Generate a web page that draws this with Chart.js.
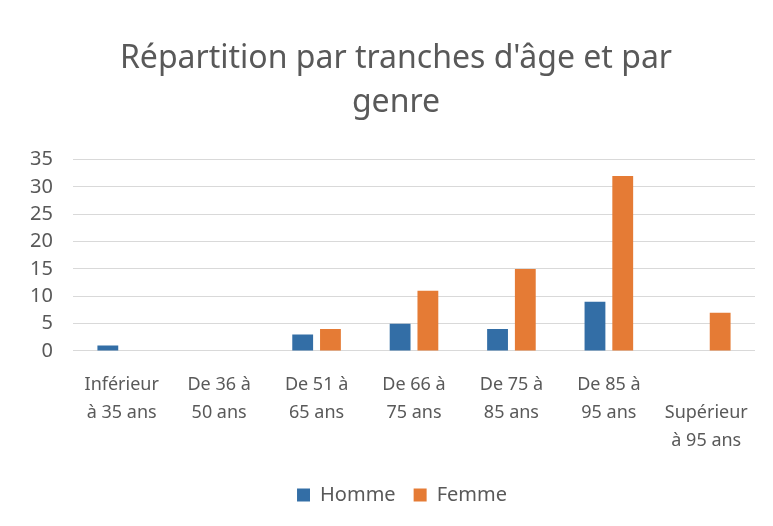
<!DOCTYPE html>
<html>
<head>
<meta charset="utf-8">
<script src="https://cdn.jsdelivr.net/npm/chart.js@4/dist/chart.umd.min.js"></script>
<style>
  html, body { margin: 0; padding: 0; background: #fff; }
  #wrap { width: 773px; height: 526px; }
</style>
</head>
<body>
<div id="wrap"><canvas id="chart" width="773" height="526"></canvas></div>
<script>
const categories = [
  ["Inférieur", "à 35 ans"],
  ["De 36 à", "50 ans"],
  ["De 51 à", "65 ans"],
  ["De 66 à", "75 ans"],
  ["De 75 à", "85 ans"],
  ["De 85 à", "95 ans"],
  ["", "Supérieur", "à 95 ans"],
];
const homme = [1, 0, 3, 5, 4, 9, 0];
const femme = [0, 0, 4, 11, 15, 32, 7];
const titleLines = ["Répartition par tranches d'âge et par", "genre"];

const textColor = "#595959";
const font = "'Noto Sans', 'Open Sans', sans-serif";

// title and legend sit a bit right of the canvas centre in the original
const shiftBlocks = {
  id: "shiftBlocks",
  afterLayout(chart) {
    if (chart.titleBlock) {
      chart.titleBlock.left += 15;
      chart.titleBlock.right += 15;
    }
    if (chart.legend) {
      chart.legend.left += 21;
      chart.legend.right += 21;
    }
  },
};

new Chart(document.getElementById("chart"), {
  type: "bar",
  data: {
    labels: categories,
    datasets: [
      { label: "Homme", data: homme, backgroundColor: "#336ea6", barPercentage: 0.75, categoryPercentage: 0.57 },
      { label: "Femme", data: femme, backgroundColor: "#e57b35", barPercentage: 0.75, categoryPercentage: 0.57 },
    ],
  },
  options: {
    responsive: false,
    animation: false,
    layout: { padding: { left: 7, right: 18, top: 36, bottom: 11 } },
    scales: {
      y: {
        min: 0,
        max: 35,
        ticks: { stepSize: 5, color: textColor, font: { family: font, size: 20 }, padding: 20 },
        grid: { color: "#d9d9d9", drawTicks: false },
        border: { display: false },
        afterFit(scale) { scale.width = 66; },
      },
      x: {
        ticks: { color: textColor, font: { family: font, size: 18, lineHeight: 1.556 }, padding: 20, maxRotation: 0, autoSkip: false },
        grid: { display: false, drawTicks: false },
        border: { display: false },
        afterFit(scale) { scale.height -= 8; },
      },
    },
    plugins: {
      title: {
        display: true,
        text: titleLines,
        color: textColor,
        font: { family: font, size: 32, weight: "normal", lineHeight: 1.4 },
        padding: { top: 0, bottom: 34 },
      },
      legend: {
        position: "bottom",
        labels: { color: textColor, font: { family: font, size: 20 }, boxWidth: 13, boxHeight: 13, padding: 18 },
      },
      tooltip: { enabled: false },
    },
  },
  plugins: [shiftBlocks],
});
</script>
</body>
</html>
